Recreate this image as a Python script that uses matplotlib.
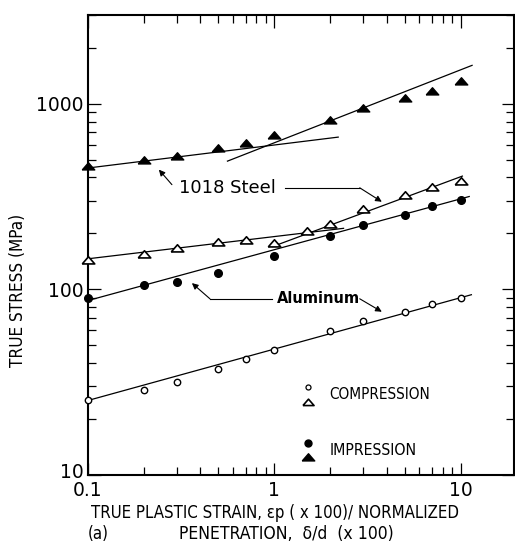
import matplotlib
matplotlib.use('Agg')
import matplotlib.pyplot as plt
from matplotlib.ticker import FixedLocator, FixedFormatter, NullFormatter
from matplotlib.transforms import ScaledTranslation

# ---------------- data ----------------
x_steel_imp = [0.1, 0.2, 0.3, 0.5, 0.7, 1.0, 2.0, 3.0, 5.0, 7.0, 10.0]
steel_imp = [461, 497, 525, 576, 615, 676, 818, 951, 1075, 1170, 1320]

x_steel_comp = [0.1, 0.2, 0.3, 0.5, 0.7, 1.0, 1.5, 2.0, 3.0, 5.0, 7.0, 10.0]
steel_comp = [143, 154, 166, 179, 185, 177, 205, 226, 270, 321, 355, 381]

x_al_imp = [0.1, 0.2, 0.3, 0.5, 1.0, 2.0, 3.0, 5.0, 7.0, 10.0]
al_imp = [90, 106, 110, 123, 152, 193, 221, 250, 280, 302]

x_al_comp = [0.1, 0.2, 0.3, 0.5, 0.7, 1.0, 2.0, 3.0, 5.0, 7.0, 10.0]
al_comp = [25.2, 28.8, 31.5, 37.0, 42.0, 47.0, 59.6, 67.6, 75.9, 83.4, 90.0]

# fitted lines (end points)
fit_steel_imp_1 = ([0.1, 2.2], [450, 660])
fit_steel_imp_2 = ([0.56, 11.5], [490, 1607])
fit_steel_comp_1 = ([0.1, 2.35], [146, 213])
fit_steel_comp_2 = ([0.98, 10.2], [170, 407])
fit_al_imp = ([0.1, 11.1], [87, 316])
fit_al_comp = ([0.1, 11.4], [25.2, 93.5])

x_major = [0.1, 1, 10]
x_major_labels = ['0.1', '1', '10']
y_major = [10, 100, 1000]
y_major_labels = ['10', '100', '1000']

# ---------------- figure ----------------
W, H = 515, 547
fig = plt.figure(figsize=(W / 100, H / 100), dpi=100)
ax = fig.add_axes([88 / W, 1 - 475 / H, (514 - 88) / W, (475 - 15) / H])
ax.set_xscale('log')
ax.set_yscale('log')
ax.set_xlim(0.1, 19.3)
ax.set_ylim(10, 3000)

tri = [(-1.0, -0.55), (1.0, -0.55), (0.0, 0.6), (-1.0, -0.55)]
lw_fit = 0.9

for xs, ys in [fit_steel_imp_1, fit_steel_imp_2, fit_steel_comp_1,
               fit_steel_comp_2, fit_al_imp, fit_al_comp]:
    ax.plot(xs, ys, color='black', lw=lw_fit, zorder=2)

ax.plot(x_steel_imp, steel_imp, ls='none', marker=tri, ms=9,
        mfc='black', mec='black', zorder=3, clip_on=False)
ax.plot(x_steel_comp, steel_comp, ls='none', marker=tri, ms=9,
        mfc='white', mec='black', mew=1.2, zorder=3, clip_on=False)
ax.plot(x_al_imp, al_imp, ls='none', marker='o', ms=5.5,
        mfc='black', mec='black', zorder=3, clip_on=False)
ax.plot(x_al_comp, al_comp, ls='none', marker='o', ms=4.6,
        mfc='white', mec='black', mew=1.0, zorder=3, clip_on=False)

# ticks
ax.xaxis.set_major_locator(FixedLocator(x_major))
ax.xaxis.set_major_formatter(FixedFormatter(x_major_labels))
ax.yaxis.set_major_locator(FixedLocator(y_major))
ax.yaxis.set_major_formatter(FixedFormatter(y_major_labels))
minor_x = [m * d for d in (0.1, 1) for m in range(2, 10)]
minor_y = [m * d for d in (10, 100, 1000) for m in range(2, 10) if m * d <= 3000]
ax.xaxis.set_minor_locator(FixedLocator(minor_x))
ax.yaxis.set_minor_locator(FixedLocator(minor_y))
ax.xaxis.set_minor_formatter(NullFormatter())
ax.yaxis.set_minor_formatter(NullFormatter())
ax.tick_params(which='both', direction='in', top=True, right=True,
               width=0.9, colors='black')
ax.tick_params(which='major', length=9, labelsize=13.5, pad=3)
ax.tick_params(axis='x', which='major', pad=4)
ax.tick_params(which='minor', length=5.5)
for s in ax.spines.values():
    s.set_linewidth(1.5)

# annotations
arr = dict(arrowstyle='-|>', color='black', lw=0.8, mutation_scale=9,
           shrinkA=0, shrinkB=0)
ax.text(0.308, 352, '1018 Steel', fontsize=13, ha='left', va='center',
        family='DejaVu Sans')
ax.annotate('', xy=(0.24, 441), xytext=(0.282, 366), arrowprops=arr)
ax.plot([1.138, 2.87], [352, 352], color='black', lw=0.8)
ax.annotate('', xy=(3.77, 296), xytext=(2.87, 352), arrowprops=arr)

ax.text(1.03, 88.9, 'Aluminum', fontsize=10.5, ha='left', va='center',
        family='DejaVu Sans', fontweight='bold')
ax.plot([0.97, 0.451], [88.9, 88.9], color='black', lw=0.8)
ax.annotate('', xy=(0.361, 108), xytext=(0.451, 88.9), arrowprops=arr)
ax.annotate('', xy=(3.77, 75.7), xytext=(2.87, 88.9), arrowprops=arr)

# legend (manual, stacked symbols)
ax.plot([1.51], [29.8], ls='none', marker='o', ms=3.6, mfc='white', mec='black', mew=0.9)
ax.plot([1.51], [24.6], ls='none', marker=tri, ms=8, mfc='white', mec='black', mew=1.2)
ax.plot([1.51], [14.9], ls='none', marker='o', ms=5, mfc='black', mec='black')
ax.plot([1.51], [12.5], ls='none', marker=tri, ms=9, mfc='black', mec='black')
cond = dict(family='DejaVu Sans', fontstretch='condensed')
ax.text(1.98, 27.0, 'COMPRESSION', fontsize=11, ha='left', va='center', **cond)
ax.text(1.98, 13.6, 'IMPRESSION', fontsize=11.3, ha='left', va='center', **cond)

# axis labels
fig.text(18 / W, 1 - 290 / H, 'TRUE STRESS (MPa)', rotation=90, fontsize=12.3,
         ha='center', va='center', **cond)
fig.text(275 / W, 1 - 513 / H, 'TRUE PLASTIC STRAIN, εp ( x 100)/ NORMALIZED',
         fontsize=12.1, ha='center', va='center', **cond)
fig.text(88 / W, 1 - 534 / H, '(a)', fontsize=12.1, ha='left', va='center', **cond)
fig.text(286 / W, 1 - 534 / H, 'PENETRATION,  δ/d  (x 100)', fontsize=12.6,
         ha='center', va='center', **cond)

# nudge the lowest y label up a little (as in the reference)
fig.canvas.draw()
for lab in ax.get_yticklabels():
    if lab.get_text() == '10':
        lab.set_transform(lab.get_transform() + ScaledTranslation(0, 3 / 72, fig.dpi_scale_trans))

fig.savefig('out.png', dpi=100)
